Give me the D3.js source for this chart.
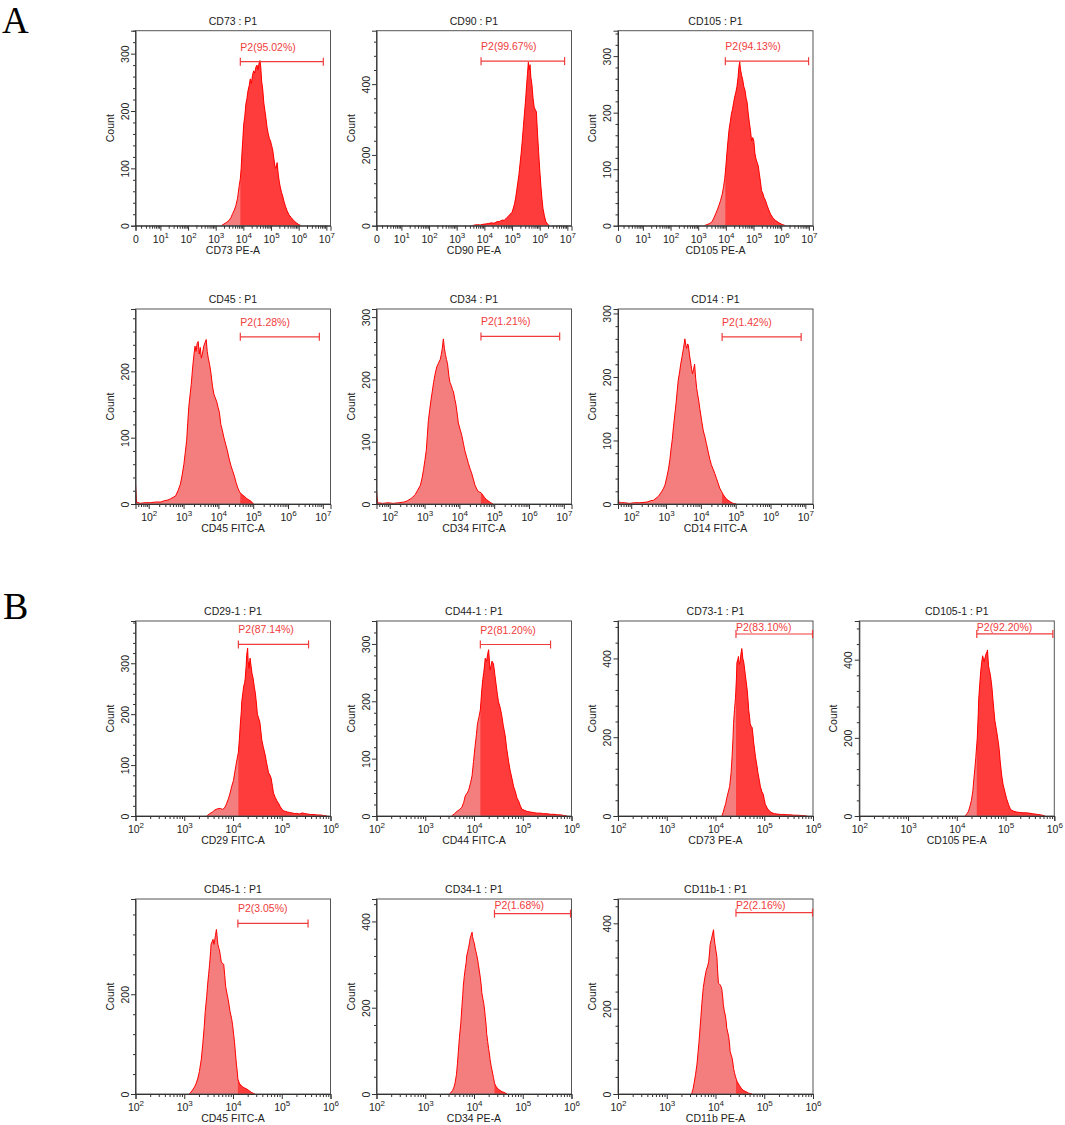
<!DOCTYPE html>
<html>
<head>
<meta charset="utf-8">
<script src="https://cdn.jsdelivr.net/npm/d3@7"></script>
<style>
  body { margin: 0; background: #fff; }
  svg { display: block; }
  text { font-family: "Liberation Sans", Arial, sans-serif; }
</style>
</head>
<body>
<div id="chart"></div>
<script>
// histogram readings: [log10(intensity), count]
const cd73 = [[3.20,0],[3.30,3],[3.40,6],[3.48,9],[3.55,14],[3.61,21],[3.67,27],[3.73,35],[3.79,48],[3.85,70],[3.89,82],[3.92,100],[3.95,128],[3.98,150],[4.01,176],[4.05,190],[4.09,212],[4.13,222],[4.17,236],[4.21,244],[4.25,256],[4.29,248],[4.33,262],[4.37,270],[4.41,266],[4.45,276],[4.49,280],[4.53,272],[4.57,284],[4.60,288],[4.63,276],[4.66,252],[4.70,238],[4.74,214],[4.78,200],[4.82,186],[4.86,170],[4.90,160],[4.94,152],[4.98,148],[5.02,140],[5.06,132],[5.10,118],[5.14,104],[5.18,100],[5.22,110],[5.26,90],[5.30,76],[5.34,66],[5.38,58],[5.42,52],[5.47,42],[5.52,34],[5.58,26],[5.65,19],[5.73,14],[5.82,9],[5.91,5],[6.00,2],[6.09,0]];
const cd90 = [[3.55,0],[3.65,2],[3.75,3],[3.85,2],[3.95,4],[4.05,5],[4.15,6],[4.25,8],[4.35,7],[4.45,11],[4.55,12],[4.65,16],[4.72,15],[4.80,22],[4.87,27],[4.94,33],[5.00,38],[5.05,50],[5.09,62],[5.13,78],[5.17,100],[5.21,122],[5.25,145],[5.29,175],[5.33,205],[5.37,240],[5.41,280],[5.45,318],[5.49,355],[5.53,400],[5.56,430],[5.59,462],[5.62,440],[5.65,455],[5.68,420],[5.72,398],[5.76,360],[5.80,335],[5.84,328],[5.88,322],[5.92,262],[5.96,210],[6.00,160],[6.04,115],[6.08,78],[6.12,48],[6.17,28],[6.22,12],[6.28,5],[6.35,0]];
const cd105 = [[3.22,0],[3.32,2],[3.42,4],[3.50,7],[3.57,14],[3.63,21],[3.69,28],[3.75,36],[3.81,45],[3.87,56],[3.92,70],[3.96,84],[4.00,105],[4.04,130],[4.08,152],[4.12,172],[4.16,184],[4.20,198],[4.24,206],[4.28,218],[4.32,228],[4.36,236],[4.40,246],[4.44,262],[4.47,280],[4.50,290],[4.53,276],[4.57,266],[4.61,258],[4.65,246],[4.69,240],[4.73,226],[4.77,218],[4.81,198],[4.85,182],[4.89,168],[4.93,150],[4.97,156],[5.01,150],[5.05,128],[5.09,118],[5.13,112],[5.17,106],[5.21,92],[5.25,78],[5.29,62],[5.33,58],[5.38,50],[5.43,45],[5.49,36],[5.55,28],[5.62,20],[5.70,14],[5.80,9],[5.92,5],[6.04,2],[6.16,0]];
const cd45 = [[1.62,30],[1.65,3],[1.75,1],[1.90,2],[2.05,2],[2.20,3],[2.35,3],[2.45,5],[2.55,6],[2.63,8],[2.70,10],[2.77,12],[2.84,20],[2.91,30],[2.96,44],[3.01,60],[3.05,78],[3.09,96],[3.12,122],[3.15,146],[3.19,166],[3.22,180],[3.26,205],[3.30,226],[3.33,238],[3.36,230],[3.39,242],[3.42,245],[3.45,226],[3.48,236],[3.51,220],[3.54,226],[3.58,238],[3.62,244],[3.65,248],[3.68,230],[3.71,220],[3.75,210],[3.79,196],[3.83,178],[3.87,166],[3.91,160],[3.95,155],[3.99,146],[4.03,138],[4.07,120],[4.11,112],[4.16,100],[4.21,90],[4.26,80],[4.31,68],[4.36,58],[4.41,50],[4.46,42],[4.51,32],[4.56,24],[4.61,18],[4.66,15],[4.71,13],[4.76,11],[4.82,8],[4.88,6],[4.94,4],[5.01,0]];
const cd34 = [[1.62,22],[1.65,2],[1.80,1],[1.95,2],[2.10,1],[2.25,2],[2.40,3],[2.50,5],[2.59,8],[2.66,11],[2.73,15],[2.80,22],[2.88,30],[2.93,42],[2.97,55],[3.01,70],[3.05,86],[3.08,110],[3.11,134],[3.15,152],[3.18,165],[3.22,180],[3.26,195],[3.30,208],[3.35,220],[3.40,226],[3.45,232],[3.48,240],[3.51,250],[3.54,265],[3.57,250],[3.60,240],[3.63,232],[3.66,225],[3.70,205],[3.73,195],[3.77,190],[3.80,184],[3.83,180],[3.87,168],[3.90,160],[3.94,144],[3.97,130],[4.02,120],[4.07,110],[4.12,96],[4.16,85],[4.21,75],[4.26,65],[4.31,56],[4.35,50],[4.40,40],[4.45,30],[4.50,24],[4.54,20],[4.59,19],[4.64,17],[4.69,13],[4.73,10],[4.78,7],[4.83,5],[4.90,2],[4.97,0]];
const cd14 = [[1.62,12],[1.65,2],[1.80,2],[1.95,1],[2.10,2],[2.25,2],[2.45,3],[2.55,5],[2.64,6],[2.71,9],[2.78,12],[2.83,16],[2.88,20],[2.93,25],[2.97,30],[3.02,42],[3.07,55],[3.11,70],[3.14,85],[3.18,102],[3.21,120],[3.25,140],[3.29,160],[3.32,178],[3.35,195],[3.39,208],[3.42,220],[3.46,232],[3.50,245],[3.52,252],[3.54,260],[3.57,250],[3.59,245],[3.62,252],[3.64,250],[3.67,236],[3.70,225],[3.73,214],[3.76,205],[3.79,212],[3.82,220],[3.85,198],[3.88,182],[3.90,175],[3.94,162],[3.97,150],[4.02,132],[4.07,115],[4.12,105],[4.16,95],[4.21,82],[4.26,70],[4.30,62],[4.35,55],[4.40,48],[4.45,40],[4.50,32],[4.54,25],[4.59,20],[4.64,15],[4.69,11],[4.73,8],[4.78,6],[4.83,4],[4.92,1],[5.02,0]];
const cd29b = [[3.46,0],[3.53,5],[3.58,8],[3.63,12],[3.68,14],[3.74,15],[3.78,13],[3.82,15],[3.85,20],[3.87,25],[3.91,35],[3.94,45],[3.97,57],[4.01,70],[4.04,88],[4.08,110],[4.11,125],[4.13,150],[4.15,180],[4.17,205],[4.18,225],[4.20,240],[4.22,255],[4.24,262],[4.25,270],[4.27,295],[4.28,315],[4.30,330],[4.31,305],[4.33,290],[4.35,310],[4.37,295],[4.39,280],[4.41,272],[4.42,265],[4.44,252],[4.46,240],[4.48,222],[4.50,200],[4.52,194],[4.55,185],[4.57,168],[4.59,150],[4.62,136],[4.66,120],[4.69,104],[4.73,85],[4.76,80],[4.78,75],[4.81,58],[4.83,45],[4.87,36],[4.90,30],[4.94,24],[4.97,18],[5.01,13],[5.04,10],[5.08,9],[5.11,8],[5.16,7],[5.21,6],[5.26,5],[5.31,5],[5.36,4],[5.42,6],[5.47,5],[5.52,4],[5.59,3],[5.66,3],[5.72,2],[5.79,2],[5.86,1],[5.93,0]];
const cd44b = [[3.54,0],[3.60,4],[3.65,8],[3.70,11],[3.75,15],[3.79,24],[3.82,35],[3.86,40],[3.89,45],[3.93,58],[3.96,70],[3.99,95],[4.02,120],[4.05,142],[4.07,160],[4.10,172],[4.13,185],[4.16,220],[4.18,238],[4.20,250],[4.22,265],[4.23,275],[4.25,272],[4.26,270],[4.28,282],[4.30,290],[4.32,265],[4.33,255],[4.35,262],[4.37,270],[4.40,265],[4.43,245],[4.46,225],[4.48,212],[4.50,200],[4.54,188],[4.57,175],[4.60,158],[4.64,140],[4.67,118],[4.71,95],[4.74,80],[4.78,65],[4.81,52],[4.85,42],[4.88,32],[4.92,25],[4.95,18],[4.98,12],[5.03,10],[5.09,8],[5.15,7],[5.22,6],[5.29,5],[5.36,5],[5.43,4],[5.50,4],[5.57,3],[5.64,3],[5.71,2],[5.77,2],[5.84,1],[5.91,0]];
const cd73b = [[4.13,0],[4.16,10],[4.18,20],[4.21,32],[4.23,45],[4.26,60],[4.29,75],[4.32,110],[4.34,150],[4.36,200],[4.37,235],[4.39,270],[4.41,300],[4.43,350],[4.44,390],[4.46,398],[4.47,405],[4.49,385],[4.51,395],[4.52,410],[4.54,425],[4.56,400],[4.58,390],[4.60,370],[4.61,360],[4.63,340],[4.65,320],[4.67,290],[4.68,270],[4.70,250],[4.71,235],[4.73,228],[4.75,225],[4.77,205],[4.78,190],[4.80,170],[4.82,150],[4.85,128],[4.87,110],[4.90,90],[4.92,75],[4.95,62],[4.98,55],[5.00,42],[5.02,30],[5.06,20],[5.09,15],[5.13,10],[5.16,8],[5.21,6],[5.26,5],[5.33,4],[5.40,4],[5.47,3],[5.54,3],[5.61,2],[5.68,2],[5.78,1],[5.88,0]];
const cd105b = [[4.17,0],[4.21,6],[4.24,12],[4.27,25],[4.30,40],[4.33,65],[4.35,95],[4.37,120],[4.39,150],[4.42,200],[4.44,260],[4.45,300],[4.47,335],[4.49,370],[4.51,392],[4.53,410],[4.55,400],[4.56,395],[4.58,405],[4.60,415],[4.62,420],[4.63,425],[4.65,385],[4.67,372],[4.69,360],[4.72,330],[4.74,300],[4.76,272],[4.78,245],[4.80,230],[4.82,215],[4.85,190],[4.87,170],[4.89,140],[4.92,105],[4.95,80],[4.99,60],[5.02,45],[5.06,30],[5.09,20],[5.12,15],[5.17,12],[5.23,10],[5.29,9],[5.36,8],[5.43,8],[5.50,7],[5.55,6],[5.60,5],[5.66,4],[5.71,3],[5.76,2],[5.81,0]];
const cd45b = [[3.10,0],[3.14,4],[3.17,8],[3.21,14],[3.24,20],[3.28,32],[3.31,45],[3.35,70],[3.38,100],[3.41,135],[3.43,165],[3.46,195],[3.48,220],[3.50,240],[3.52,260],[3.54,285],[3.55,300],[3.57,305],[3.59,310],[3.61,300],[3.62,305],[3.64,318],[3.66,330],[3.68,310],[3.69,300],[3.71,292],[3.72,290],[3.74,278],[3.76,265],[3.78,262],[3.81,260],[3.83,238],[3.85,215],[3.88,200],[3.90,190],[3.92,178],[3.94,165],[3.97,152],[3.99,140],[4.01,122],[4.03,105],[4.05,82],[4.07,60],[4.09,42],[4.10,30],[4.12,24],[4.14,20],[4.17,17],[4.19,15],[4.22,13],[4.24,12],[4.28,10],[4.31,8],[4.35,5],[4.38,3],[4.45,0]];
const cd34b = [[3.50,0],[3.53,4],[3.56,8],[3.59,16],[3.61,25],[3.64,45],[3.66,70],[3.68,100],[3.70,130],[3.73,165],[3.75,200],[3.77,230],[3.78,250],[3.80,272],[3.82,290],[3.84,305],[3.85,320],[3.87,330],[3.89,340],[3.91,352],[3.92,360],[3.94,368],[3.96,375],[3.97,365],[3.99,355],[4.01,348],[4.02,340],[4.04,330],[4.06,320],[4.08,308],[4.09,300],[4.11,285],[4.13,270],[4.15,250],[4.16,235],[4.18,222],[4.20,210],[4.22,192],[4.23,180],[4.25,158],[4.26,140],[4.28,122],[4.30,105],[4.32,90],[4.33,80],[4.35,66],[4.37,55],[4.40,38],[4.42,25],[4.45,18],[4.47,15],[4.51,10],[4.54,8],[4.58,5],[4.61,4],[4.68,0]];
const cd11b = [[3.51,0],[3.54,12],[3.56,25],[3.59,45],[3.62,70],[3.64,95],[3.66,120],[3.68,150],[3.70,180],[3.72,212],[3.75,250],[3.78,272],[3.81,290],[3.84,300],[3.86,310],[3.88,335],[3.89,350],[3.91,360],[3.92,365],[3.94,375],[3.96,385],[3.97,368],[3.99,350],[4.01,335],[4.03,320],[4.04,295],[4.06,260],[4.08,258],[4.10,255],[4.12,250],[4.13,245],[4.15,225],[4.16,210],[4.18,195],[4.20,185],[4.22,170],[4.23,155],[4.25,145],[4.27,135],[4.29,115],[4.30,100],[4.32,92],[4.34,85],[4.36,70],[4.37,60],[4.39,50],[4.41,40],[4.43,34],[4.44,30],[4.47,24],[4.49,20],[4.52,15],[4.54,12],[4.58,8],[4.61,6],[4.65,4],[4.68,2],[4.75,0]];

const titles  = ["CD73 : P1","CD90 : P1","CD105 : P1","CD45 : P1","CD34 : P1","CD14 : P1",
                 "CD29-1 : P1","CD44-1 : P1","CD73-1 : P1","CD105-1 : P1","CD45-1 : P1","CD34-1 : P1","CD11b-1 : P1"];
const xLabels = ["CD73 PE-A","CD90 PE-A","CD105 PE-A","CD45 FITC-A","CD34 FITC-A","CD14 FITC-A",
                 "CD29 FITC-A","CD44 FITC-A","CD73 PE-A","CD105 PE-A","CD45 FITC-A","CD34 PE-A","CD11b PE-A"];
const gateText = ["P2(95.02%)","P2(99.67%)","P2(94.13%)","P2(1.28%)","P2(1.21%)","P2(1.42%)",
                  "P2(87.14%)","P2(81.20%)","P2(83.10%)","P2(92.20%)","P2(3.05%)","P2(1.68%)","P2(2.16%)"];
// gates: [start log10, end log10, count level]
const gates = [[3.89,6.89,286],[3.88,6.90,465],[3.98,6.99,291],[4.63,6.90,252],[4.62,6.88,269],[4.61,6.88,263],
               [4.11,5.55,337],[4.13,5.57,299],[4.42,5.99,462],[4.41,5.97,466],[4.10,5.54,342],[4.42,5.98,418],[4.42,5.99,425]];
const yMaxes = [340,551,345,294,313,307,383,340,495,499,391,452,457];
const ySteps = [100,200,100,100,100,100,100,100,200,200,200,200,200];
const hists  = [cd73,cd90,cd105,cd45,cd34,cd14,cd29b,cd44b,cd73b,cd105b,cd45b,cd34b,cd11b];
// x ranges in log10 units; "0" marks the lower end of the biexponential axis
const xDomains = [[0.1,7.15],[0.1,7.15],[0.1,7.15],[1.62,7.22],[1.62,7.22],[1.62,7.22],
                  [2,6],[2,6],[2,6],[2,6],[2,6],[2,6],[2,6]];
const hasZero = [true,true,true,false,false,false,false,false,false,false,false,false,false];

// layout
const cell = [[0,0],[0,1],[0,2],[1,0],[1,1],[1,2],[2,0],[2,1],[2,2],[2,3],[3,0],[3,1],[3,2]];
const colX = [135.5, 376.5, 618, 859.3];
const rowY = [30.7, 309, 621, 899];
const W = 195, H = 195;
const darkFill = "#ff3c3c", lightFill = "#f47d7d", lineCol = "#ff0000";

const svg = d3.select("#chart").append("svg")
    .attr("width", 1065)
    .attr("height", 1125)
    .attr("viewBox", [0, 0, 1065, 1125]);

svg.append("text").attr("x", 2).attr("y", 33)
    .style("font-family", "'Liberation Serif', 'Times New Roman', serif")
    .style("font-size", "37px").text("A");
svg.append("text").attr("x", 3).attr("y", 619)
    .style("font-family", "'Liberation Serif', 'Times New Roman', serif")
    .style("font-size", "38px").text("B");

hists.forEach((hist, i) => {
  const [r, c] = cell[i];
  const g = svg.append("g").attr("transform", `translate(${colX[c]},${rowY[r]})`);
  const x = d3.scaleLinear().domain(xDomains[i]).range([0, W]);
  const y = d3.scaleLinear().domain([0, yMaxes[i]]).range([H, 0]);
  const [gLo, gHi, gLev] = gates[i];

  const clipId = "clip" + i, darkId = "dark" + i;
  g.append("clipPath").attr("id", clipId)
    .append("rect").attr("width", W).attr("height", H);
  g.append("clipPath").attr("id", darkId)
    .append("rect").attr("x", x(gLo)).attr("width", W - x(gLo)).attr("height", H);

  const area = d3.area().x(d => x(d[0])).y0(H).y1(d => y(d[1]));
  const line = d3.line().x(d => x(d[0])).y(d => y(d[1]));

  const plot = g.append("g").attr("clip-path", `url(#${clipId})`);
  plot.append("path").datum(hist).attr("d", area).attr("fill", lightFill);
  plot.append("path").datum(hist).attr("d", area).attr("fill", darkFill)
      .attr("clip-path", `url(#${darkId})`);
  plot.append("path").datum(hist).attr("d", line)
      .attr("fill", "none").attr("stroke", lineCol).attr("stroke-width", 1);

  // frame
  g.append("rect").attr("width", W).attr("height", H)
      .attr("fill", "none").attr("stroke", "#555").attr("stroke-width", 1);

  // x axis: decades + minor ticks
  const [lo, hi] = xDomains[i];
  const majors = d3.range(Math.ceil(lo), Math.floor(hi) + 1).filter(k => !(hasZero[i] && k === 0));
  const minors = [];
  d3.range(Math.floor(lo), Math.ceil(hi)).forEach(k => {
    d3.range(2, 10).forEach(m => {
      const v = k + Math.log10(m);
      if (v > lo + 0.02 && v < hi - 0.02) minors.push(v);
    });
  });
  const majorVals = hasZero[i] ? [lo].concat(majors) : majors;

  g.append("g").attr("transform", `translate(0,${H})`)
      .call(d3.axisBottom(x).tickValues(minors).tickSize(3).tickFormat(""))
      .call(a => a.select(".domain").remove())
      .call(a => a.selectAll("line").attr("stroke", "#333"));
  const gx = g.append("g").attr("transform", `translate(0,${H})`)
      .call(d3.axisBottom(x).tickValues(majorVals).tickSize(5).tickFormat(""))
      .call(a => a.select(".domain").attr("stroke", "#333"))
      .call(a => a.selectAll("line").attr("stroke", "#333"));
  gx.selectAll(".tick").each(function(v) {
    const t = d3.select(this).append("text")
        .attr("y", 17).attr("fill", "#222").attr("text-anchor", "middle")
        .style("font-size", "10.5px");
    if (hasZero[i] && v === lo) { t.text("0"); return; }
    t.append("tspan").text("10");
    t.append("tspan").attr("dy", -5).style("font-size", "8px").text(v);
  });

  // y axis
  const step = ySteps[i];
  const yMaj = d3.range(0, yMaxes[i] + 1, step);
  const yMin = d3.range(0, yMaxes[i] + 1, step / 5).filter(v => v % step !== 0);
  g.append("g")
      .call(d3.axisLeft(y).tickValues(yMin).tickSize(2.5).tickFormat(""))
      .call(a => a.select(".domain").remove())
      .call(a => a.selectAll("line").attr("stroke", "#333"));
  g.append("g")
      .call(d3.axisLeft(y).tickValues(yMaj).tickSize(4.5))
      .call(a => a.select(".domain").attr("stroke", "#333"))
      .call(a => a.selectAll("line").attr("stroke", "#333"))
      .call(a => a.selectAll("text")
          .attr("transform", "rotate(-90)")
          .attr("x", 0).attr("y", -7).attr("dy", null)
          .attr("text-anchor", "middle")
          .attr("fill", "#222").style("font-size", "10.5px"));

  // labels
  g.append("text").attr("x", W / 2).attr("y", -6).attr("text-anchor", "middle")
      .attr("fill", "#222").style("font-size", "10.5px").text(titles[i]);
  g.append("text").attr("x", W / 2).attr("y", H + 28).attr("text-anchor", "middle")
      .attr("fill", "#222").style("font-size", "10.5px").text(xLabels[i]);
  g.append("text").attr("transform", `translate(-22,${H / 2}) rotate(-90)`)
      .attr("text-anchor", "middle").attr("fill", "#222")
      .style("font-size", "10.5px").text("Count");

  // gate bar
  const gy = y(gLev), x0 = x(gLo), x1 = x(gHi);
  const gate = g.append("g").attr("stroke", "#f03c3c").attr("stroke-width", 1.2);
  gate.append("line").attr("x1", x0).attr("x2", x1).attr("y1", gy).attr("y2", gy);
  gate.append("line").attr("x1", x0).attr("x2", x0).attr("y1", gy - 4).attr("y2", gy + 4);
  gate.append("line").attr("x1", x1).attr("x2", x1).attr("y1", gy - 4).attr("y2", gy + 4);
  g.append("text").attr("x", x0).attr("y", Math.max(gy - 11, 10))
      .attr("fill", "#f03c3c").style("font-size", "10.5px").text(gateText[i]);
});
</script>
</body>
</html>
